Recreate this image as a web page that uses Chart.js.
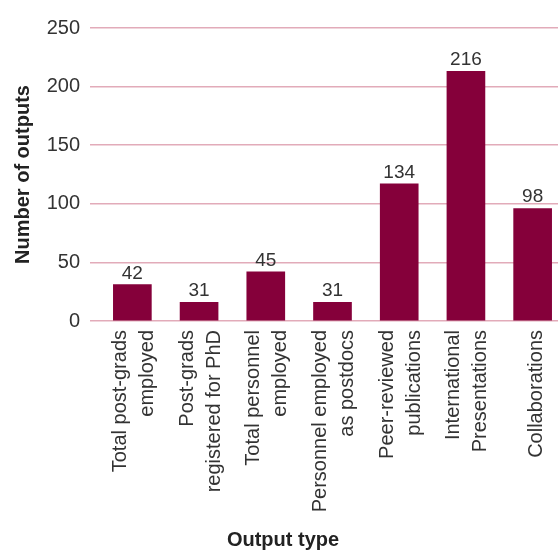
<!DOCTYPE html>
<html>
<head>
<meta charset="utf-8">
<script src="https://cdn.jsdelivr.net/npm/chart.js@4"></script>
<style>
  html, body { margin: 0; padding: 0; overflow: hidden; background: #fff; }
  #wrap { width: 568px; height: 550px; }
</style>
</head>
<body>
<div id="wrap"><canvas id="outputsChart"></canvas></div>
<script>
// output categories (two lines each where the label wraps)
var categories = [
  ['Total post-grads', 'employed'],
  ['Post-grads', 'registered for PhD'],
  ['Total personnel', 'employed'],
  ['Personnel employed', 'as postdocs'],
  ['Peer-reviewed', 'publications'],
  ['International', 'Presentations'],
  ['', 'Collaborations']   // empty first line keeps it on the right side like the others
];
// bar heights as drawn
var barValues = [31, 16, 42, 16, 117, 213, 96];
// numbers printed above the bars
var labelValues = [42, 31, 45, 31, 134, 216, 98];
var yTicks = [0, 50, 100, 150, 200, 250];

var barColor = '#85003a';
var gridColor = '#e2abb9';
var textColor = '#333333';
var fontFamily = '"Liberation Sans", Arial, Helvetica, sans-serif';

var valueLabels = {
  id: 'valueLabels',
  afterDatasetsDraw: function(chart) {
    var ctx = chart.ctx;
    var meta = chart.getDatasetMeta(0);
    ctx.save();
    ctx.font = '19px ' + fontFamily;
    ctx.fillStyle = textColor;
    ctx.textAlign = 'center';
    ctx.textBaseline = 'alphabetic';
    meta.data.forEach(function(bar, i) {
      ctx.fillText(String(labelValues[i]), bar.x, bar.y - 6);
    });
    ctx.restore();
  }
};

var ctx = document.getElementById('outputsChart');
var chart = new Chart(ctx, {
  type: 'bar',
  data: {
    labels: categories,
    datasets: [{
      label: 'Outputs',
      data: barValues,
      backgroundColor: barColor,
      borderWidth: 0,
      barThickness: 38
    }]
  },
  options: {
    responsive: true,
    maintainAspectRatio: false,
    animation: false,
    layout: { padding: { top: 28, right: 2, left: 0, bottom: 0 } },
    plugins: {
      legend: { display: false },
      tooltip: { enabled: false },
      title: {
        display: true,
        position: 'bottom',
        text: 'Output type',
        color: '#222',
        font: { family: fontFamily, size: 20, weight: 'bold', lineHeight: 1 },
        padding: 0
      }
    },
    scales: {
      x: {
        grid: { display: false, drawTicks: false },
        border: { display: false },
        ticks: {
          autoSkip: false,
          minRotation: 90,
          maxRotation: 90,
          padding: 9,
          labelOffset: -12,
          color: textColor,
          font: function(c) {
            // last label only has one real line, pull it back towards its bar
            var lh = c.index === categories.length - 1 ? 0.8 : 1.35;
            return { family: fontFamily, size: 20, lineHeight: lh };
          }
        },
        afterFit: function(scale) {
          scale.height = 209;
          scale.paddingLeft = 0;
          scale.paddingRight = 0;
        }
      },
      y: {
        min: 0,
        max: 250,
        afterBuildTicks: function(scale) {
          scale.ticks = yTicks.map(function(v) { return { value: v }; });
        },
        grid: { color: gridColor, lineWidth: 1.5, drawTicks: true, tickLength: 9 },
        border: { display: false },
        ticks: {
          padding: 10,
          color: textColor,
          font: { family: fontFamily, size: 20 }
        },
        title: {
          display: true,
          text: 'Number of outputs',
          color: '#222',
          font: { family: fontFamily, size: 20, weight: 'bold' },
          padding: { top: 11, bottom: 0 }
        },
        afterFit: function(scale) { scale.width = 99; }
      }
    }
  },
  plugins: [valueLabels]
});
</script>
</body>
</html>
